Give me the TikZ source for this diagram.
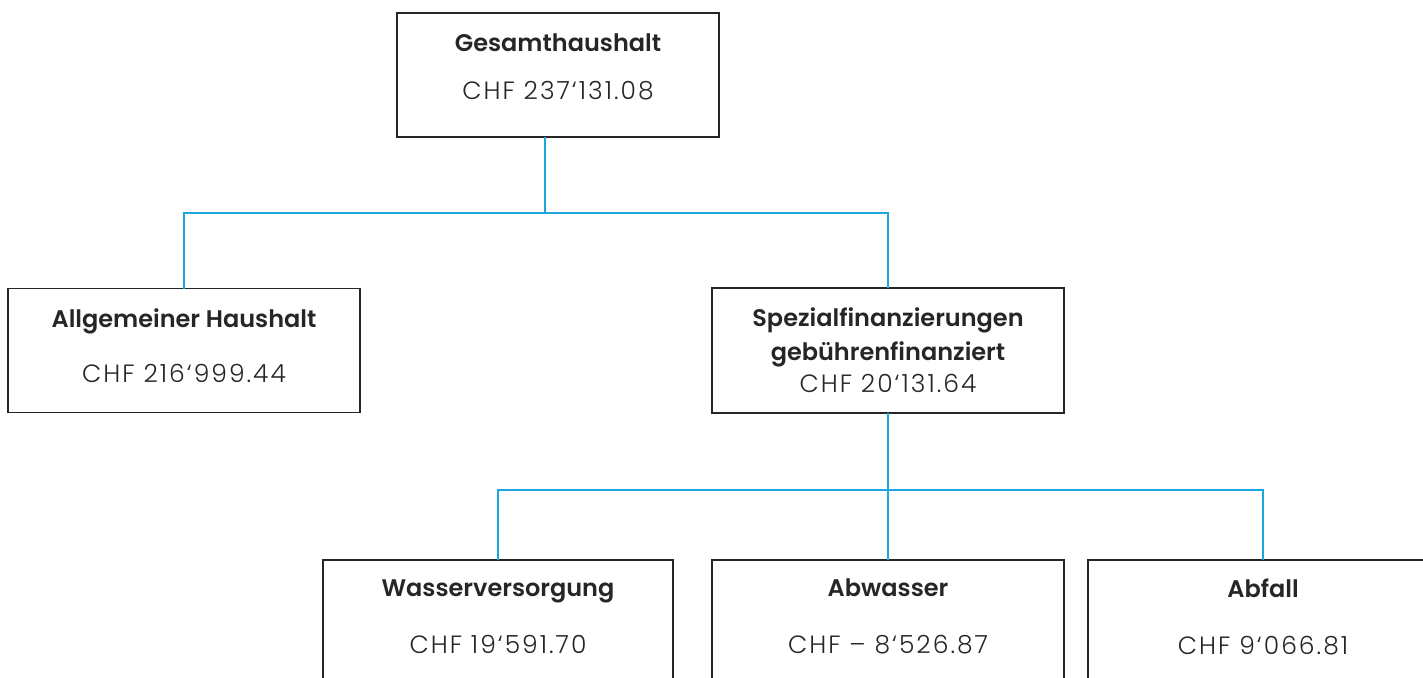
\documentclass[tikz,border=0pt]{standalone}
\usepackage{fontspec}
\setmainfont{Poppins}[UprightFont={* Light},BoldFont={* SemiBold}]
\usetikzlibrary{positioning}
\definecolor{linkblue}{HTML}{1EA7DF}
\definecolor{boxline}{HTML}{262626}
\newcommand\chf[1]{{\fontsize{25}{29}\selectfont\mdseries\addfontfeatures{LetterSpace=8}CHF #1}}

\begin{document}
\begin{tikzpicture}[x=1pt,y=-1pt,node distance=39pt,
  box/.style={draw=boxline,line width=1.8pt,minimum height=124pt,inner sep=0pt,
    outer sep=0pt,align=center,text=boxline,font=\fontsize{24}{29}\selectfont\bfseries},
  link/.style={draw=linkblue,line width=2pt}]

\clip (0,0) rectangle (1423,677);

\node[box,minimum width=322pt,text depth=17pt] (ges) at (558,75)
  {Gesamthaushalt\\[19pt]\chf{237‘131.08}};
\node[box,minimum width=350pt,text depth=11pt] (wasser) at (498,622)
  {Wasserversorgung\\[28pt]\chf{19‘591.70}};
\node[box,minimum width=352pt,text depth=11pt] (abw) [right=39pt of wasser]
  {Abwasser\\[28pt]\chf{– 8‘526.87}};
\node[box,minimum width=350pt,text depth=11pt] (abf) [right=24pt of abw]
  {Abfall\\[28pt]\chf{9‘066.81}};
\node[box,minimum width=352pt,minimum height=125pt] (spez) [above=147pt of abw]
  {Spezialfinanzierungen\\[5pt]gebührenfinanziert\\[3pt]\chf{20‘131.64}};
\node[box,minimum width=352pt,text depth=10pt] (all) [left=352pt of spez]
  {Allgemeiner Haushalt\\[26pt]\chf{216‘999.44}};

% Gesamthaushalt nach unten
\draw[link] ([xshift=-13pt]ges.south) -- ++(0,76) coordinate (j1);
\draw[link] (all.north) -- (all.north |- j1) -| (spez.north);

% Spezialfinanzierungen nach unten
\draw[link] (spez.south) -- ++(0,77) coordinate (j2);
\draw[link] (wasser.north) -- (wasser.north |- j2) -| (abf.north);
\draw[link] (j2) -- (abw.north);
\end{tikzpicture}
\end{document}
